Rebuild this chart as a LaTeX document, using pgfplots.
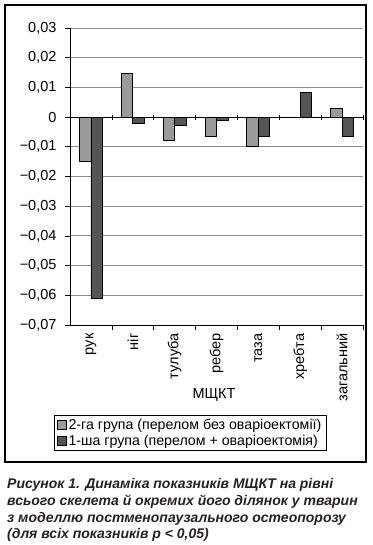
\documentclass[border=0pt]{standalone}
\usepackage{pgfplots}
\pgfplotsset{compat=1.18}
\usepackage{fontspec}
\setmainfont{Liberation Sans}
\definecolor{barlight}{HTML}{9A9A9A}
\definecolor{bardark}{HTML}{555555}
\definecolor{gridc}{HTML}{8C8C8C}
\definecolor{capc}{HTML}{2A1F1F}
\begin{document}
\begin{tikzpicture}[x=1pt,y=1pt]
\path (0,0) rectangle (372,545);
\draw[line width=1.1pt] (5,83) rectangle (366,540);
\begin{axis}[
  at={(70pt,220pt)}, anchor=south west,
  scale only axis, width=293pt, height=297pt,
  ymin=-0.07, ymax=0.03,
  xmin=-0.5, xmax=6.5,
  scaled y ticks=false,
  ybar=0pt, bar width=11.5pt,
  axis x line*=bottom, axis y line*=left,
  axis line style={line width=0.8pt, -},
  ytick={-0.07,-0.06,-0.05,-0.04,-0.03,-0.02,-0.01,0,0.01,0.02,0.03},
  yticklabels={{−0,07},{−0,06},{−0,05},{−0,04},{−0,03},{−0,02},{−0,01},{0},{0,01},{0,02},{0,03}},
  ymajorgrids, grid style={gridc, line width=0.8pt},
  xtick={0,...,6},
  xticklabels={рук,ніг,тулуба,ребер,таза,хребта,загальний},
  major x tick style={draw=none},
  minor xtick={0.5,1.5,2.5,3.5,4.5,5.5,6.5},
  minor x tick style={black, line width=0.7pt},
  minor tick length=5pt,
  major tick length=5pt,
  ytick style={black, line width=0.7pt},
  tick align=outside,
  xticklabel style={rotate=90, anchor=east, font=\fontsize{14.5}{16}\selectfont},
  yticklabel style={font=\fontsize{14.5}{16}\selectfont, xshift=-5pt},
  legend style={at={(0.41,-0.364)}, anchor=center, draw=black, line width=0.8pt,
    font=\fontsize{14.2}{16}\selectfont, legend cell align=left,
    inner xsep=3pt, inner ysep=1.5pt, row sep=0pt},
  legend image code/.code={\draw[#1, line width=0.6pt] (0pt,-4.5pt) rectangle (9pt,4.5pt);},
  clip=false,
]
\addplot[fill=barlight, draw=black, line width=0.8pt] coordinates {
 (0,-0.0150) (1,0.0147) (2,-0.0079) (3,-0.0064) (4,-0.0098) (5,0) (6,0.0029)};
\addlegendentry{2-га група (перелом без оваріоектомії)}
\addplot[fill=bardark, draw=black, line width=0.8pt] coordinates {
 (0,-0.0611) (1,-0.0021) (2,-0.0028) (3,-0.0011) (4,-0.0064) (5,0.0083) (6,-0.0064)};
\addlegendentry{1-ша група (перелом + оваріоектомія)}
\draw[black, line width=0.8pt] (axis cs:-0.5,0) -- (axis cs:6.5,0);
\pgfplotsinvokeforeach{0.5,1.5,2.5,3.5,4.5,5.5,6.5}{
  \draw[black, line width=0.7pt] ([yshift=-2.5pt]axis cs:#1,0) -- ([yshift=2.5pt]axis cs:#1,0);
}
\end{axis}
\node[font=\fontsize{14.5}{16}\selectfont] at (214,150) {МЩКТ};
\node[anchor=base west, align=left, text=capc, inner sep=0pt,
  font=\fontsize{14}{16.7}\selectfont\bfseries\itshape] at (7,6)
  {Рисунок 1. Динаміка показників МЩКТ на рівні\\
   всього скелета й окремих його ділянок у тварин\\
   з моделлю постменопаузального остеопорозу\\
   (для всіх показників р < 0,05)};
\end{tikzpicture}
\end{document}
